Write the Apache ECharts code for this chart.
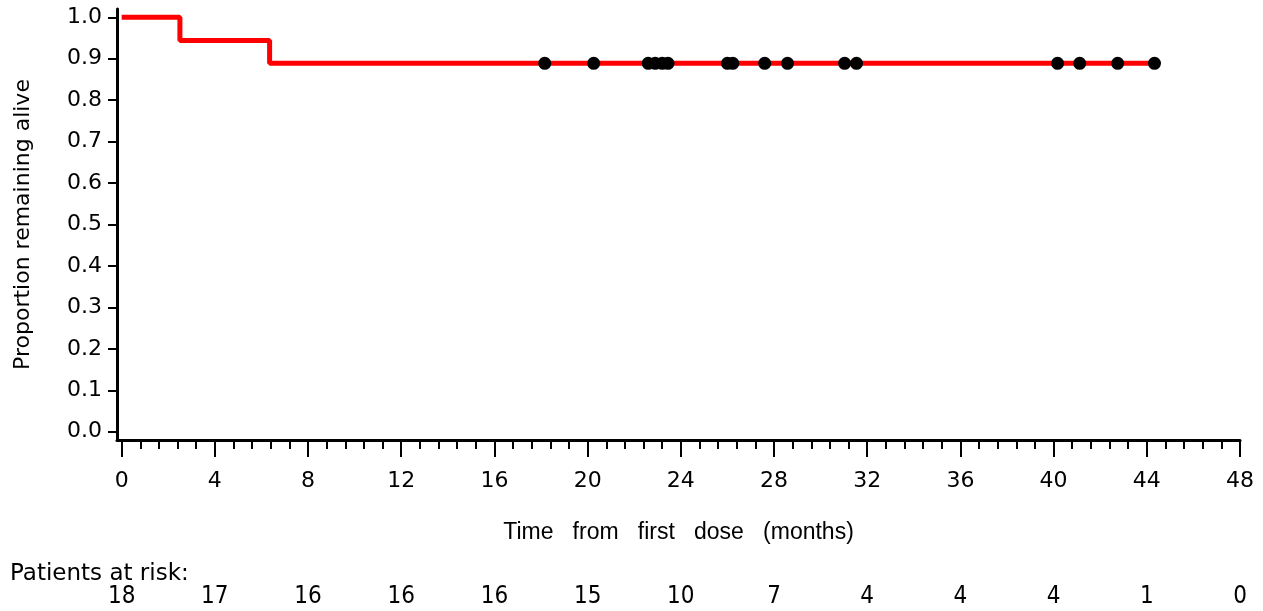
<!DOCTYPE html>
<html>
<head>
<meta charset="utf-8">
<script src="https://cdn.jsdelivr.net/npm/echarts@6/dist/echarts.min.js"></script>
<style>
html,body{margin:0;padding:0;background:#fff;}
#chart{width:1263px;height:611px;}
</style>
</head>
<body>
<div id="chart"></div>
<script>
// Kaplan-Meier step curve (time in months, survival proportion)
const kmTimes = [0, 2.5, 6.35, 44.33];
const kmSurv = [1.0, 0.944, 0.889, 0.889];
// Censoring times (months)
const censorTimes = [18.16, 20.26, 22.6, 22.9, 23.2, 23.45, 26.0, 26.23, 27.6, 28.58, 31.03, 31.54, 40.17, 41.12, 42.75, 44.33];
// Axis ticks
const xMajorTicks = [0, 4, 8, 12, 16, 20, 24, 28, 32, 36, 40, 44, 48];
const yTicks = [0.0, 0.1, 0.2, 0.3, 0.4, 0.5, 0.6, 0.7, 0.8, 0.9, 1.0];
// Patients at risk at each major tick
const atRisk = [18, 17, 16, 16, 16, 15, 10, 7, 4, 4, 4, 1, 0];

const xMinorTicks = [];
for (let i = 0; i < xMajorTicks.length - 1; i++) {
  for (let k = 1; k < 5; k++) xMinorTicks.push(xMajorTicks[i] + k * 0.8);
}

function survAt(t) {
  let s = kmSurv[0];
  for (let i = 0; i < kmTimes.length; i++) { if (kmTimes[i] <= t) s = kmSurv[i]; }
  return s;
}

const FONT = "'Liberation Sans', Arial, Helvetica, sans-serif";
const DV = "'DejaVu Sans', sans-serif";
const DVC = "'DejaVu Sans Condensed', 'DejaVu Sans', sans-serif";
const chart = echarts.init(document.getElementById('chart'), null, {renderer: 'canvas'});
const xCommon = {type: 'value', min: -0.2, max: 48, gridIndex: 0, position: 'bottom', splitLine: {show: false}};

chart.setOption({
  animation: false,
  backgroundColor: '#ffffff',
  grid: {left: 117, right: 23, top: 9, bottom: 171, containLabel: false},
  xAxis: [
    Object.assign({}, xCommon, {
      name: 'Time   from   first   dose   (months)',
      nameLocation: 'middle',
      nameGap: 81,
      nameTextStyle: {fontFamily: FONT, fontSize: 23, color: '#000'},
      axisLine: {show: true, onZero: false, lineStyle: {color: '#000', width: 3}},
      axisTick: {show: true, customValues: xMajorTicks, length: 17, lineStyle: {color: '#000', width: 2}},
      axisLabel: {show: true, customValues: xMajorTicks, margin: 30, fontFamily: DV, fontSize: 22, color: '#000',
        formatter: v => String(Math.round(v))}
    }),
    Object.assign({}, xCommon, {
      axisLine: {show: false, onZero: false},
      axisTick: {show: true, customValues: xMinorTicks, length: 9, lineStyle: {color: '#000', width: 2}},
      axisLabel: {show: false}
    }),
    Object.assign({}, xCommon, {
      offset: 130,
      axisLine: {show: false, onZero: false},
      axisTick: {show: false},
      axisLabel: {show: true, customValues: xMajorTicks, margin: 15, fontFamily: DVC, fontSize: 24, color: '#000',
        formatter: v => { const i = xMajorTicks.indexOf(Math.round(v)); return i >= 0 ? String(atRisk[i]) : ''; }}
    })
  ],
  yAxis: {
    type: 'value', min: -0.02, max: 1.02,
    name: 'Proportion remaining alive',
    nameLocation: 'middle',
    nameRotate: 90,
    nameGap: 83,
    nameTextStyle: {fontFamily: DV, fontSize: 22, color: '#000'},
    splitLine: {show: false},
    axisLine: {show: true, onZero: false, lineStyle: {color: '#000', width: 3}},
    axisTick: {show: true, customValues: yTicks, length: 9, lineStyle: {color: '#000', width: 2}},
    axisLabel: {show: true, customValues: yTicks, margin: 15, fontFamily: DV, fontSize: 22, color: '#000',
      formatter: v => v.toFixed(1)}
  },
  graphic: [{
    type: 'text', left: 10, top: 563,
    style: {text: 'Patients at risk:', fontFamily: DV, fontSize: 23, fill: '#000'}
  }],
  series: [
    {
      type: 'line', xAxisIndex: 0, step: 'end', symbol: 'none',
      data: kmTimes.map((t, i) => [t, kmSurv[i]]),
      lineStyle: {color: '#ff0000', width: 5}, z: 2
    },
    {
      type: 'scatter', xAxisIndex: 0, symbol: 'circle', symbolSize: 13,
      data: censorTimes.map(t => [t, survAt(t)]),
      itemStyle: {color: '#000', opacity: 1}, z: 3
    }
  ]
});
</script>
</body>
</html>
